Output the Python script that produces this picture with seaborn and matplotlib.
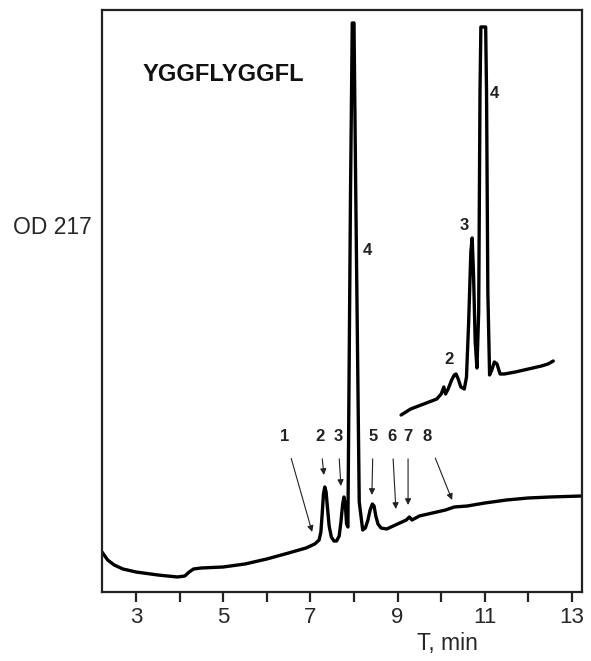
import numpy as np
import pandas as pd
import matplotlib
matplotlib.use("Agg")
import matplotlib.pyplot as plt
import seaborn as sns

# main chromatogram (time in min, OD in arbitrary units)
main_t = [2.22, 2.35, 2.5, 2.7, 3.0, 3.5, 3.95, 4.12, 4.22, 4.32, 4.5, 5.0, 5.5, 6.0,
          6.5, 6.9, 7.1, 7.2, 7.24, 7.27, 7.3, 7.33, 7.36, 7.39, 7.43, 7.48, 7.54,
          7.6, 7.66, 7.7, 7.74, 7.77, 7.8, 7.83, 7.86, 7.92, 7.96, 8.0, 8.04, 8.12,
          8.2, 8.26, 8.32, 8.37, 8.42, 8.46, 8.5, 8.55, 8.62, 8.75, 8.9, 9.1, 9.2,
          9.27, 9.33, 9.5, 9.8, 10.1, 10.3, 10.6, 11.0, 11.5, 12.0, 12.5, 13.23]
main_od = [40, 32, 27, 23, 20, 17, 15, 16, 20, 23, 24, 25, 28, 33,
           39, 44, 48, 52, 60, 78, 98, 105, 100, 85, 66, 55, 51,
           51, 56, 70, 88, 95, 88, 68, 65, 400, 569, 569, 400, 90,
           62, 64, 72, 82, 88, 86, 76, 68, 64, 63, 66, 70, 72,
           75, 72, 76, 79, 82, 85, 86, 89, 92, 94, 95, 96]

# inset (expanded) chromatogram
inset_t = [9.08, 9.3, 9.6, 9.9, 10.0, 10.06, 10.1, 10.16, 10.24, 10.3, 10.34, 10.39,
           10.45, 10.53, 10.58, 10.63, 10.68, 10.71, 10.74, 10.78, 10.82, 10.86,
           10.89, 10.91, 11.02, 11.04, 11.07, 11.11, 11.16, 11.22, 11.28, 11.35,
           11.45, 11.7, 11.9, 12.1, 12.3, 12.45, 12.57]
inset_od = [177, 183, 188, 193, 198, 205, 198, 203, 212, 217, 218, 213,
            205, 203, 215, 270, 340, 354, 320, 250, 224, 280,
            500, 565, 565, 500, 300, 217, 222, 230, 228, 218,
            218, 220, 222, 224, 226, 228, 231]

# arrowed peak labels: label, label position, arrow head
arrow_labels = ["1", "2", "3", "5", "6", "7", "8"]
arrow_text_t = [6.42, 7.22, 7.63, 8.44, 8.87, 9.24, 9.67]
arrow_head_t = [7.04, 7.31, 7.70, 8.41, 8.96, 9.24, 10.25]
arrow_head_od = [60, 117, 106, 97, 83, 87, 92]
arrow_text_od = 155

# direct peak labels
peak_labels = ["4", "3", "4", "2"]
peak_t = [8.30, 10.52, 11.23, 10.18]
peak_od = [341, 366, 498, 232]

xticks = list(range(3, 14))
xtick_labels = [str(v) if v % 2 == 1 else "" for v in xticks]

sns.set_style("ticks")
plt.rcParams['font.family'] = ['Liberation Sans', 'DejaVu Sans']

fig = plt.figure(figsize=(5.91, 6.61), dpi=100)
ax = fig.add_axes([0.1726, 0.1044, 0.8122, 0.8805])

main_df = pd.DataFrame({"t": main_t, "od": main_od})
inset_df = pd.DataFrame({"t": inset_t, "od": inset_od})
sns.lineplot(data=main_df, x="t", y="od", ax=ax, color="black", lw=2.4,
             sort=False, estimator=None)
sns.lineplot(data=inset_df, x="t", y="od", ax=ax, color="black", lw=2.4,
             sort=False, estimator=None)

for lab, tx, hx, hy in zip(arrow_labels, arrow_text_t, arrow_head_t, arrow_head_od):
    ax.annotate(lab, xy=(hx, hy), xytext=(tx, arrow_text_od), ha="center", va="center",
                fontsize=12, fontweight="bold", color="#222222",
                arrowprops=dict(arrowstyle="-|>", lw=0.8, color="#222222",
                                shrinkA=8, shrinkB=0, mutation_scale=9))

for lab, tx, ty in zip(peak_labels, peak_t, peak_od):
    ax.text(tx, ty, lab, ha="center", va="center", fontsize=12,
            fontweight="bold", color="#222222")

ax.text(3.16, 517, "YGGFLYGGFL", ha="left", va="center", fontsize=17,
        fontweight="bold", color="#111111")

ax.set_xlim(2.22, 13.23)
ax.set_ylim(0, 582)
ax.set_xticks(xticks)
ax.set_xticklabels(xtick_labels, fontsize=16)
ax.set_yticks([])
ax.set_xlabel("")
ax.set_ylabel("")
ax.tick_params(axis="x", direction="out", length=7, width=1.6, pad=4, color="#222222")
for sp in ax.spines.values():
    sp.set_linewidth(1.6)
    sp.set_color("#222222")

ax.text(0.72, -0.088, "T, min", transform=ax.transAxes, ha="center", va="center",
        fontsize=16.5)
fig.text(13 / 591, 1 - 228 / 661, "OD 217", ha="left", va="center", fontsize=16.5)

fig.savefig("out.png", dpi=100)
